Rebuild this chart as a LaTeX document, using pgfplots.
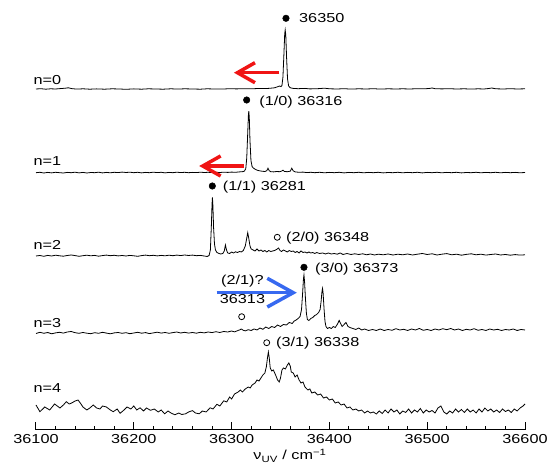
\documentclass[border=0pt]{standalone}
\usepackage{pgfplots}
\pgfplotsset{compat=1.18}
\usepackage{fontspec}
\setmainfont{Liberation Sans}[FakeStretch=1.25]
\definecolor{arrred}{RGB}{240,20,20}
\definecolor{arrblue}{RGB}{55,105,240}
\begin{document}
\fontsize{13}{15}\selectfont
\begin{tikzpicture}
\useasboundingbox (-36pt,-35pt) rectangle (511pt,430pt);
\begin{axis}[
 at={(0pt,0pt)}, anchor=south west,
 scale only axis, width=489pt, height=430pt,
 xmin=36100, xmax=36600, ymin=0, ymax=430,
 axis x line*=bottom, axis y line=none,
 clip=false,
 xtick={36100,36200,36300,36400,36500,36600},
 scaled x ticks=false,
 minor x tick num=4,
 tick align=inside,
 major tick length=7.7pt, minor tick length=4.3pt,
 tick style={black, line width=1pt},
 x axis line style={line width=1pt},
 /pgf/number format/assume math mode=true,
 /pgf/number format/1000 sep={},
 xticklabel style={font=\fontsize{13}{15}\selectfont, inner sep=0pt, yshift=-4.5pt},
]
% n=0
\addplot[black, line width=0.8pt] table[x=x, y expr=\thisrow{r}+341] {
x r
36100 0.0
36105 0.3
36110 -0.2
36115 0.2
36120 0.0
36125 0.4
36130 0.8
36133 1.2
36137 0.3
36142 -0.1
36148 0.2
36155 -0.2
36162 0.1
36170 -0.2
36178 0.2
36185 0.0
36192 -0.3
36200 0.1
36208 -0.2
36215 0.2
36222 0.0
36230 -0.2
36238 0.2
36245 -0.1
36252 0.2
36260 0.0
36268 -0.2
36275 0.2
36282 0.0
36290 -0.1
36298 0.3
36305 0.1
36312 0.3
36320 0.2
36328 0.5
36335 0.4
36340 0.8
36344 1.2
36347 2.2
36349 3.0
36350.5 2.4
36351.5 3.5
36352.5 12
36353.5 35
36354.3 55
36354.8 59
36355.4 54
36356.2 32
36357.2 10
36358.3 3
36360 1.2
36363 0.6
36368 0.3
36375 0.6
36380 0.1
36388 0.3
36395 0.8
36400 0.2
36408 0.0
36415 0.3
36422 -0.1
36430 0.2
36438 0.0
36445 0.3
36452 -0.1
36460 0.2
36468 0.0
36475 0.2
36482 0.0
36490 0.3
36497 0.2
36502 0.5
36505 1.0
36508 0.3
36515 0.1
36522 0.3
36530 0.0
36538 0.2
36545 -0.1
36552 0.2
36558 0.0
36563 0.5
36566 1.0
36570 0.2
36578 0.0
36585 0.3
36592 0.0
36600 0.2
};
% n=1
\addplot[black, line width=0.8pt] table[x=x, y expr=\thisrow{r}+257.3] {
x r
36100 0.0
36104 0.4
36108 -0.3
36112 0.3
36116 -0.2
36120 0.4
36124 0.0
36128 -0.3
36132 0.3
36136 0.0
36140 0.5
36144 -0.2
36148 0.3
36152 -0.3
36156 0.2
36160 0.0
36164 0.5
36168 -0.2
36172 0.3
36176 -0.1
36180 0.4
36184 0.1
36188 0.6
36192 0.2
36196 0.5
36200 0.0
36204 0.4
36208 -0.2
36212 0.3
36216 0.0
36220 0.5
36224 0.1
36228 0.4
36232 -0.2
36236 0.3
36240 0.0
36244 0.5
36248 0.1
36252 0.4
36256 0.0
36260 0.3
36264 0.1
36268 0.5
36272 0.2
36276 0.4
36280 0.1
36284 0.4
36288 0.2
36292 0.5
36296 0.3
36300 0.6
36304 0.4
36308 0.8
36311 1.0
36313 1.5
36314.5 4
36315.5 15
36316.5 40
36317.2 58
36317.6 61.5
36318.1 55
36318.8 32
36319.8 12
36321 6
36322.5 4.5
36324 3.5
36326 2.5
36328 2.0
36331 1.5
36334 1.2
36336 2.0
36337.2 4.5
36338.5 2.0
36340 1.0
36343 0.8
36346 1.2
36349 1.0
36351 1.5
36352.5 2.5
36354 1.2
36357 1.0
36360 1.5
36361.5 4.5
36363 1.8
36365 0.8
36369 0.4
36373 0.6
36377 0.1
36381 0.4
36385 0.0
36390 0.4
36395 -0.1
36400 0.3
36405 0.0
36410 0.4
36415 -0.2
36420 0.3
36425 0.0
36430 0.4
36435 -0.1
36440 0.3
36445 0.0
36450 0.4
36455 -0.2
36460 0.2
36465 0.0
36470 0.4
36475 -0.1
36480 0.3
36485 0.0
36490 0.4
36495 -0.2
36500 0.3
36505 0.0
36510 0.4
36515 -0.1
36520 0.3
36525 0.0
36530 0.4
36535 -0.2
36540 0.2
36545 0.0
36550 0.4
36555 -0.1
36560 0.3
36565 0.0
36570 0.4
36575 -0.1
36580 0.3
36585 0.0
36590 0.3
36595 -0.1
36600 0.2
};
% n=2
\addplot[black, line width=0.8pt] table[x=x, y expr=\thisrow{r}+174] {
x r
36100 0.0
36104 0.5
36108 -0.3
36112 0.6
36116 0.0
36120 0.8
36124 0.2
36128 -0.2
36132 0.5
36136 1.0
36140 0.4
36144 -0.3
36148 0.3
36152 0.8
36156 0.2
36160 0.6
36164 -0.2
36168 0.4
36172 0.9
36176 0.3
36180 0.7
36184 0.1
36188 0.5
36192 0.0
36196 0.6
36200 0.2
36204 -0.3
36208 0.4
36212 0.9
36216 0.3
36220 0.7
36224 0.1
36228 0.6
36232 0.2
36236 0.8
36240 0.3
36244 0.9
36248 0.4
36252 1.0
36256 0.5
36260 0.9
36264 0.3
36268 0.6
36272 0.0
36275 -0.5
36277 0.5
36278.3 6
36279.3 30
36280 52
36280.4 58.7
36280.9 50
36281.6 28
36282.5 12
36283.5 6
36285 3.5
36287 2.5
36289 2.0
36291 2.5
36292.5 5
36293.7 11
36294.8 6
36296 3
36298 2.5
36300 4.0
36302 3.0
36304 4.2
36306 3.5
36308 4.5
36310 4.0
36312 5.5
36314 10
36315.5 18
36316.5 23.3
36317.5 18
36318.8 10
36320 7
36322 6
36324 5
36326 7
36328 5
36330 6
36332 4.5
36334 5.5
36336 4
36338 5.5
36340 4.5
36342 5
36344 5.5
36346 6.5
36348 8
36349.5 5.5
36351 4.5
36353 6
36355 5
36357 4
36359 5.5
36361 4.5
36363 5.0
36365 3.5
36367 4.5
36369 3.0
36371 5.0
36373 3.5
36375 4.0
36377 3.0
36379 4.0
36381 3.0
36383 3.5
36385 2.5
36387 3.5
36390 2.5
36393 3.0
36396 2.0
36399 3.0
36402 2.0
36405 2.5
36408 1.8
36411 3.0
36414 1.5
36418 2.5
36422 1.5
36426 2.2
36430 1.5
36434 2.2
36438 1.2
36442 2.0
36446 1.0
36450 1.8
36455 1.2
36460 2.0
36465 1.0
36470 1.8
36475 1.2
36480 2.0
36485 1.0
36490 1.8
36495 2.5
36500 1.5
36505 2.2
36510 1.0
36515 1.8
36520 2.4
36525 1.2
36530 1.8
36535 0.8
36540 1.6
36545 2.2
36550 1.2
36555 1.8
36560 0.9
36565 1.5
36570 2.0
36575 1.0
36580 1.5
36585 0.8
36590 1.4
36595 0.9
36600 1.2
};
% n=3
\addplot[black, line width=0.8pt] table[x=x, y expr=\thisrow{r}+96.5] {
x r
36100 0.0
36104 1.2
36108 0.2
36112 1.0
36116 -0.3
36120 0.6
36124 1.2
36128 0.4
36132 1.5
36136 2.0
36140 0.8
36144 0.2
36148 1.0
36152 0.3
36156 -0.2
36160 0.8
36164 0.2
36168 1.2
36172 0.4
36176 -0.3
36180 0.6
36184 1.0
36188 0.2
36192 0.8
36196 -0.2
36200 0.5
36204 1.2
36208 0.3
36212 0.9
36216 -0.1
36220 0.6
36224 1.3
36228 0.4
36232 1.0
36236 0.2
36240 0.9
36244 1.5
36248 0.5
36252 1.2
36256 0.4
36260 1.0
36264 0.3
36268 1.2
36272 0.6
36276 1.5
36280 0.9
36284 1.8
36288 1.0
36292 2.0
36296 1.5
36300 2.5
36303 1.6
36306 2.8
36308 3.5
36310 4.5
36312 3.2
36314 2.6
36317 3.8
36320 3.0
36323 4.5
36326 3.5
36329 5.5
36332 4.2
36335 6.5
36338 5.0
36341 7.0
36344 6.0
36347 8.5
36350 7.0
36353 9.0
36356 8.5
36359 11.0
36362 10.0
36364 12.5
36366 13.5
36368 15.0
36370 17.0
36371.5 24
36372.6 40
36373.5 55
36374 58.5
36374.6 52
36375.5 35
36376.5 20
36377.5 14
36379 13
36381 15
36383 16
36385 18
36387 19
36389 21
36390.5 24
36391.5 32
36392.4 42
36393 45
36393.6 40
36394.5 25
36395.5 12
36396.5 7
36398 5
36400 6
36402 5
36404 7
36406 6
36408 9
36410 13
36411.5 10
36413 7
36415 9
36417 11
36419 7
36421 6
36424 5
36427 4
36430 5.5
36433 3.5
36436 4.5
36440 3.0
36444 4.0
36448 3.0
36452 4.5
36456 3.0
36460 4.0
36464 3.2
36468 4.8
36472 3.5
36476 4.2
36480 3.0
36484 4.5
36488 3.5
36492 5.0
36496 3.2
36500 4.0
36504 3.0
36508 4.5
36512 3.5
36516 4.8
36520 3.8
36524 5.0
36528 3.5
36532 4.5
36536 3.0
36540 4.2
36544 3.5
36548 4.8
36552 3.2
36556 4.0
36560 3.0
36564 4.5
36568 3.5
36572 4.2
36576 3.0
36580 4.0
36584 3.5
36588 4.5
36592 3.0
36596 4.0
36600 3.5
};
% n=4
\addplot[black, line width=0.8pt] table[x=x, y expr=\thisrow{r}+17] {
x r
36100 8
36104 1.3
36109 6
36114 3
36119 9
36124.5 5
36128 8
36131 11.3
36134 9
36136.5 10
36140 12
36143 13
36146 9
36148 6
36152 3
36155 5
36158.6 8
36162 5
36165.4 4
36168 7
36172 6
36176 3
36179 1.3
36183 4
36186 -0.3
36190 3
36193 6
36197 4
36200 7
36203 3
36206.4 5.2
36210 2
36213 5
36217 2.7
36221 4
36225 1
36228 3
36231.5 -0.8
36235 2
36238 0
36242 -1.8
36246 0
36249 -1.5
36253 -0.8
36256 1
36260 2.4
36263 0
36267 -0.8
36270 2
36274 1
36278 5.2
36281 4
36285 8.7
36288 7
36292 12.2
36295 11
36298 16
36300 14
36303 19
36306.7 21
36309 23
36311 21
36314 24
36317 26
36319 25
36321 28
36324 30
36326 33
36328 32
36330 35
36332 38
36334 40
36335.5 46
36336.8 56
36337.6 61
36338.5 55
36339.5 45
36341 42
36342.7 43
36345 38
36347 33
36348.7 31
36350 35
36351.5 43
36353 45
36355 44
36357 48
36358.5 50
36360 47
36361 41
36363 40
36365 36
36367 38
36369 33
36371 30
36373 31
36375 26
36378 23
36380 24
36382 20
36385 21
36388 18
36391 19
36394 15
36397 16
36400 13
36403 14
36406 10
36409 11
36412 8
36415 9
36418 5
36421 6
36424 3
36427 4
36430 2
36433 3
36436 0
36439 2
36442 0
36445 1
36448 -1
36451 2
36454 -0.5
36457 3
36460 0
36463 4
36466 1
36469 3
36472 -1
36475 2
36478 0.5
36481 4
36484 0
36487 3
36490 1
36493 4.5
36496 0
36499 3
36502 1
36505 2.5
36508 0
36511 5
36514 7
36517 1
36520 -1
36523 2
36526 0
36529 4
36532 1
36535 3.5
36538 0.5
36541 4
36544 1
36547 3
36550 0
36553 4
36556 1
36559 5
36562 2
36565 4
36568 1
36571 3
36574 0.5
36577 4
36580 1.5
36583 3
36586 0.5
36589 4
36592 2
36595 5
36598 7
36600 9
};
% assignment markers
\addplot[only marks, mark=*, mark size=3.3pt, black] coordinates {
(36355.6,411.7) (36315.4,330) (36280.3,244) (36374.0,162.7)};
\addplot[only marks, mark=o, mark size=3pt, black, mark options={line width=0.8pt}] coordinates {
(36346.7,192.7) (36310.3,113.3) (36335.9,87.3)};
% arrows
\draw[arrred, line width=3.5pt] (axis cs:36348.8,357.3) -- (axis cs:36307,357.3);
\draw[arrred, line width=3.5pt, line join=miter] (axis cs:36323.9,367.3) -- (axis cs:36306,357.3) -- (axis cs:36323.9,347.3);
\draw[arrred, line width=3.5pt] (axis cs:36312.7,264) -- (axis cs:36271.5,264);
\draw[arrred, line width=3.5pt, line join=miter] (axis cs:36288.8,274) -- (axis cs:36270.5,264) -- (axis cs:36288.8,254);
\draw[arrblue, line width=3.5pt] (axis cs:36284.8,137.3) -- (axis cs:36362,137.3);
\draw[arrblue, line width=3.5pt, line join=miter] (axis cs:36336.5,151.7) -- (axis cs:36363,137.3) -- (axis cs:36336.5,123);
% texts
\node[anchor=base west, inner sep=0pt] at (axis cs:36368.9,407) {36350};
\node[anchor=base west, inner sep=0pt] at (axis cs:36328.2,324.5) {(1/0) 36316};
\node[anchor=base west, inner sep=0pt] at (axis cs:36290.9,239.5) {(1/1) 36281};
\node[anchor=base west, inner sep=0pt] at (axis cs:36355.6,188) {(2/0) 36348};
\node[anchor=base west, inner sep=0pt] at (axis cs:36385.3,157.5) {(3/0) 36373};
\node[anchor=base west, inner sep=0pt] at (axis cs:36345.4,83) {(3/1) 36338};
\node[anchor=base, inner sep=0pt] at (axis cs:36311.1,145) {(2/1)?};
\node[anchor=base, inner sep=0pt] at (axis cs:36311.1,126) {36313};
\node[anchor=base west, inner sep=0pt] at (axis cs:36097.4,345.5) {n=0};
\node[anchor=base west, inner sep=0pt] at (axis cs:36097.4,264.6) {n=1};
\node[anchor=base west, inner sep=0pt] at (axis cs:36097.4,180.3) {n=2};
\node[anchor=base west, inner sep=0pt] at (axis cs:36097.4,102.6) {n=3};
\node[anchor=base west, inner sep=0pt] at (axis cs:36097.4,37) {n=4};
\node[anchor=base, inner sep=0pt] at (axis cs:36359.7,-30) {ν\textsubscript{UV} / cm\textsuperscript{−1}};
\end{axis}
\end{tikzpicture}
\end{document}
